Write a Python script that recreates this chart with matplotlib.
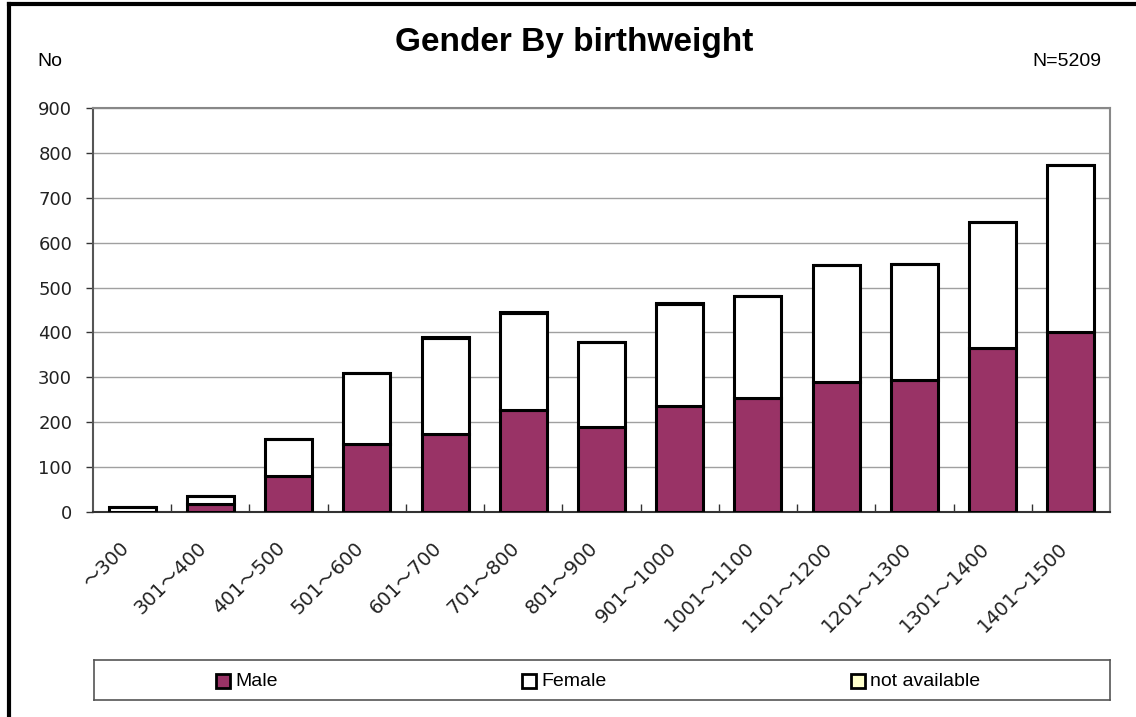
import matplotlib
matplotlib.use("Agg")
import matplotlib.pyplot as plt
import matplotlib.transforms as mtransforms
from matplotlib.lines import Line2D
import numpy as np

categories = ["～300", "301～400", "401～500", "501～600", "601～700", "701～800",
              "801～900", "901～1000", "1001～1100", "1101～1200", "1201～1300",
              "1301～1400", "1401～1500"]
male = [1, 17, 80, 151, 174, 228, 189, 237, 255, 289, 293, 366, 400]
female = [10, 18, 82, 158, 214, 216, 189, 227, 226, 261, 259, 279, 373]
not_available = [1, 0, 0, 1, 2, 1, 1, 1, 1, 1, 1, 2, 1]
yticks = [0, 100, 200, 300, 400, 500, 600, 700, 800, 900]

MALE_C = "#993366"
FEMALE_C = "#FFFFFF"
NA_C = "#FFFFCC"

W, H = 1136, 717
fig = plt.figure(figsize=(W / 100, H / 100), dpi=100)
fig.patch.set_facecolor("white")

def fx(px):
    return px / W

def fy(py):
    return 1 - py / H

ax = fig.add_axes([fx(93), fy(512), fx(1110) - fx(93), fy(108) - fy(512)])
x = np.arange(len(categories))
m = np.array(male)
f = np.array(female)
n = np.array(not_available)
bw = 0.6
ax.bar(x, m, bw, color=MALE_C, edgecolor="black", linewidth=2.2, zorder=3)
ax.bar(x, f, bw, bottom=m, color=FEMALE_C, edgecolor="black", linewidth=2.2, zorder=3)
ax.bar(x, n, bw, bottom=m + f, color=NA_C, edgecolor="black", linewidth=2.2, zorder=3)

ax.set_xlim(-0.5, len(categories) - 0.5)
ax.set_ylim(0, 900)
ax.set_yticks(yticks)
ax.set_yticklabels([str(v) for v in yticks], fontsize=13, family="DejaVu Sans", color="#222222")
ax.yaxis.grid(True, color="#A0A0A0", linewidth=1, zorder=0)
ax.set_axisbelow(True)
ax.tick_params(axis="y", direction="out", length=5, width=1, color="#333333", pad=10)

ax.set_xticks(x)
ax.set_xticklabels(categories, rotation=45, ha="right", va="top", rotation_mode="anchor",
                   fontsize=14, family=["DejaVu Sans", "Noto Sans CJK JP"], color="#222222")
ax.tick_params(axis="x", which="major", length=0, pad=19)
offset = mtransforms.ScaledTranslation(-13 / 100, 0, fig.dpi_scale_trans)
for lab in ax.get_xticklabels():
    lab.set_transform(lab.get_transform() + offset)
ax.set_xticks(np.arange(0.5, len(categories) - 0.5, 1), minor=True)
ax.tick_params(axis="x", which="minor", direction="in", length=6, width=1, color="#333333")

ax.spines["left"].set_color("#555555")
ax.spines["left"].set_linewidth(1.5)
ax.spines["bottom"].set_color("#333333")
ax.spines["bottom"].set_linewidth(1.5)
ax.spines["top"].set_color("#888888")
ax.spines["top"].set_linewidth(1.5)
ax.spines["right"].set_color("#888888")
ax.spines["right"].set_linewidth(1.5)

# title and side labels
fig.text(fx(574), fy(43), "Gender By birthweight", ha="center", va="center",
         fontsize=24, fontweight="bold", family="Liberation Sans")
fig.text(fx(37), fy(61), "No", ha="left", va="center", fontsize=14, family="Liberation Sans")
fig.text(fx(1101), fy(61), "N=5209", ha="right", va="center", fontsize=14, family="Liberation Sans")

# figure border lines (top and left)
fig.add_artist(Line2D([fx(9), 1], [fy(3.5), fy(3.5)], color="black", linewidth=3, transform=fig.transFigure))
fig.add_artist(Line2D([fx(8.5), fx(8.5)], [0, fy(3.5)], color="black", linewidth=3, transform=fig.transFigure))

# legend box
L, R, T, B = 94, 1110, 660, 700
lax = fig.add_axes([fx(L), fy(B), fx(R) - fx(L), fy(T) - fy(B)])
lax.set_xlim(L, R)
lax.set_ylim(B, T)
lax.set_xticks([])
lax.set_yticks([])
for s in lax.spines.values():
    s.set_color("#555555")
    s.set_linewidth(1.2)
entries = [("Male", MALE_C, 216), ("Female", FEMALE_C, 522), ("not available", NA_C, 851)]
for label, col, px in entries:
    lax.add_patch(plt.Rectangle((px, 688), 14, -14, facecolor=col,
                                edgecolor="black", linewidth=2))
    lax.text(px + 19, 681, label, ha="left", va="center", fontsize=14, family="Liberation Sans")

fig.savefig("out.png", dpi=100)
